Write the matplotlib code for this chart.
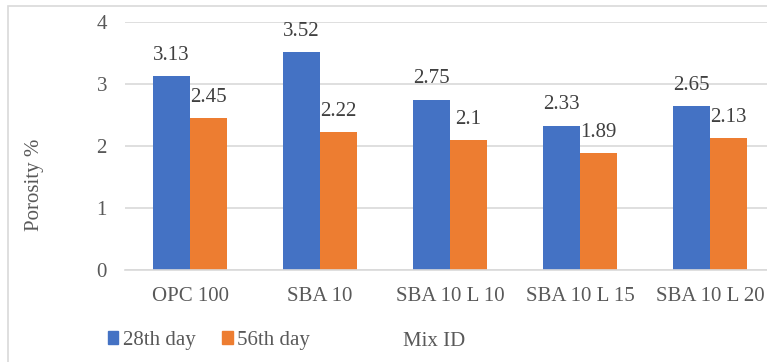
import matplotlib.pyplot as plt
import numpy as np
from matplotlib.patches import Rectangle, Patch

plt.rcParams['font.family'] = ['Liberation Serif', 'DejaVu Serif']

mixes = ['OPC 100', 'SBA 10', 'SBA 10 L 10', 'SBA 10 L 15', 'SBA 10 L 20']
day28 = [3.13, 3.52, 2.75, 2.33, 2.65]
day56 = [2.45, 2.22, 2.1, 1.89, 2.13]

blue = '#4472C4'
orange = '#ED7D31'
grey_txt = '#595959'
grid_c = '#D9D9D9'

W, H = 767, 362
fig = plt.figure(figsize=(W / 100, H / 100), dpi=100)

# outer chart frame, cut off at the right and bottom
fig.patches.append(Rectangle((8 / W, -0.1), 1.0, 1 - 6 / H + 0.1,
                             transform=fig.transFigure, fill=False,
                             edgecolor=grid_c, linewidth=1.2))

ax = fig.add_axes([125 / W, 92 / H, 650 / W, 248 / H])

x = np.arange(len(mixes))
bw = 0.285
b1 = ax.bar(x - bw / 2, day28, bw, color=blue, zorder=3)
b2 = ax.bar(x + bw / 2, day56, bw, color=orange, zorder=3)

for bars, vals in ((b1, day28), (b2, day56)):
    for r, v in zip(bars, vals):
        ax.annotate(f'{v:g}', (r.get_x() + r.get_width() / 2, v),
                    xytext=(0, 8), textcoords='offset points',
                    ha='center', va='bottom', fontsize=15, color='#404040',
                    zorder=4)

ax.set_xlim(-0.5, len(mixes) - 0.5)
ax.set_ylim(0, 4)
ax.set_yticks([0, 1, 2, 3, 4])
ax.set_xticks(x)
ax.set_xticklabels(mixes)
ax.tick_params(axis='both', length=0, labelsize=15, labelcolor=grey_txt)
ax.tick_params(axis='y', pad=13)
ax.tick_params(axis='x', pad=12)
ax.yaxis.grid(True, color=grid_c, linewidth=1.2, zorder=0)
for s in ('top', 'right', 'left'):
    ax.spines[s].set_visible(False)
ax.spines['bottom'].set_color(grid_c)
ax.spines['bottom'].set_linewidth(1.2)
ax.spines['bottom'].set_zorder(5)

fig.text(35 / W, 1 - 185 / H, 'Porosity %', rotation=90, ha='center',
         va='center', fontsize=15, color=grey_txt)
fig.text(434 / W, 1 - 342 / H, 'Mix ID', ha='center', va='center',
         fontsize=15, color=grey_txt)

handles = [Patch(color=blue, label='28th day'),
           Patch(color=orange, label='56th day')]
fig.legend(handles=handles, loc='center left', ncol=2, frameon=False,
           bbox_to_anchor=(108 / W, 1 - 340 / H), fontsize=15,
           labelcolor=grey_txt, handlelength=0.5, handleheight=0.6,
           handletextpad=0.2, columnspacing=1.3, borderaxespad=0,
           borderpad=0)

fig.savefig('out.png', dpi=100)
